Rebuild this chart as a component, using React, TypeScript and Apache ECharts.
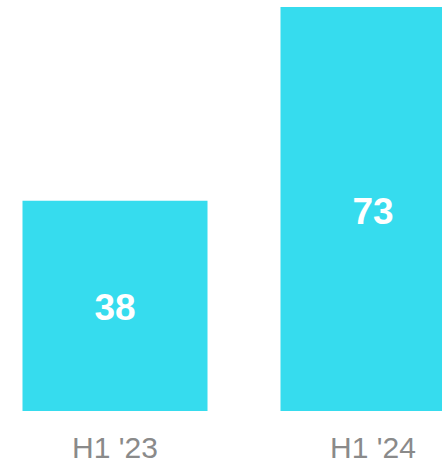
import React, { useEffect, useRef } from "react";
import * as echarts from "echarts";

const categories = ["H1 '23", "H1 '24"];
const values = [38, 73];

export default function App() {
  const ref = useRef<HTMLDivElement>(null);
  useEffect(() => {
    if (!ref.current) return;
    const chart = echarts.init(ref.current, null, { renderer: "svg" });
    chart.setOption({
      animation: false,
      grid: { left: 0, right: 0, top: 7, bottom: 53, containLabel: false },
      xAxis: {
        type: "category",
        data: categories,
        axisLine: { show: false },
        axisTick: { show: false },
        axisLabel: {
          color: "#8a8a8a",
          fontSize: 30,
          fontFamily: "Liberation Sans, Arial, sans-serif",
          margin: 21,
        },
      },
      yAxis: {
        type: "value",
        min: 0,
        max: 73,
        show: false,
        splitLine: { show: false },
      },
      series: [
        {
          type: "bar",
          data: values,
          barWidth: 185,
          itemStyle: { color: "#36DCEE" },
          label: {
            show: true,
            position: "inside",
            offset: [0, 2],
            color: "#ffffff",
            fontSize: 37,
            fontWeight: "bold",
            fontFamily: "Liberation Sans, Arial, sans-serif",
          },
        },
      ],
    });
    return () => chart.dispose();
  }, []);
  return (
    <div style={{ position: "absolute", left: 0, top: 0, width: 442, height: 464, overflow: "hidden" }}>
      <div ref={ref} style={{ position: "absolute", left: -14, top: 0, width: 516, height: 464 }} />
    </div>
  );
}
